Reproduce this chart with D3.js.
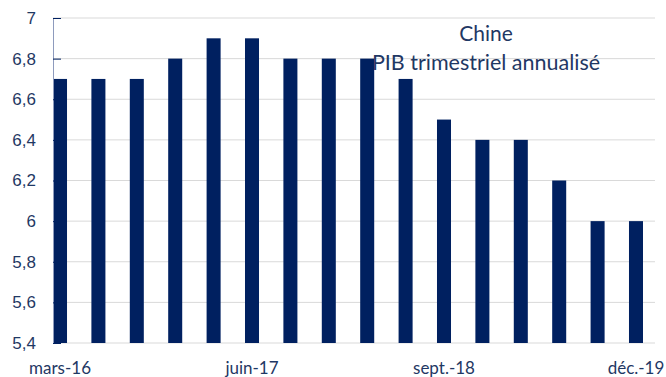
<!DOCTYPE html>
<html>
<head>
<meta charset="utf-8">
<script src="https://cdn.jsdelivr.net/npm/d3@7"></script>
<style>
  body { margin:0; background:#fff; }
  svg { display:block; font-family: Lato, "Open Sans", sans-serif; }
</style>
</head>
<body>
<div id="plot"></div>
<script>
// PIB trimestriel annualisé - Chine
var quarters = ['mars-16','juin-16','sept.-16','déc.-16',
                'mars-17','juin-17','sept.-17','déc.-17',
                'mars-18','juin-18','sept.-18','déc.-18',
                'mars-19','juin-19','sept.-19','déc.-19'];
var gdp = [6.7,6.7,6.7,6.8,6.9,6.9,6.8,6.8,6.8,6.7,6.5,6.4,6.4,6.2,6.0,6.0];
var yTicks = [5.4,5.6,5.8,6,6.2,6.4,6.6,6.8,7];
var xLabels = ['mars-16','juin-17','sept.-18','déc.-19'];

var W = 666, H = 377;
var margin = {t:18, r:11, b:34, l:53};
var width = W - margin.l - margin.r,
    height = H - margin.t - margin.b;

var navy = '#002060', textCol = '#1f3864';

var svg = d3.select('#plot').append('svg')
  .attr('width', W).attr('height', H);

var plot = svg.append('g')
  .attr('transform','translate('+margin.l+','+margin.t+')');

var x = d3.scaleBand()
  .domain(quarters)
  .range([0, 590])
  .paddingInner(0.635)
  .paddingOuter(0);

var y = d3.scaleLinear()
  .domain([5.4, 7])
  .range([height, 0]);

var fmt = function(d){ return String(d).replace('.', ','); };

// gridlines
plot.selectAll('.grid').data(yTicks).enter()
  .append('line')
  .attr('x1', 0).attr('x2', width)
  .attr('y1', function(d){ return y(d); })
  .attr('y2', function(d){ return y(d); })
  .style('stroke', '#d9d9d9')
  .style('stroke-width', '1px');

// bars
plot.selectAll('.bar').data(gdp).enter()
  .append('rect')
  .attr('x', function(d,i){ return x(quarters[i]); })
  .attr('y', function(d){ return y(d); })
  .attr('width', x.bandwidth())
  .attr('height', function(d){ return height - y(d); })
  .style('fill', navy);

// y axis
var yAxis = d3.axisLeft(y).tickValues(yTicks).tickFormat(fmt).tickSize(-8).tickPadding(17);
var ya = plot.append('g').call(yAxis);
ya.select('.domain').style('stroke', '#8e9bbd');
ya.selectAll('.tick line').style('stroke', navy);
ya.selectAll('.tick text')
  .style('font-size', '17px')
  .style('fill', textCol);

// x labels
plot.selectAll('.xlab').data(xLabels).enter()
  .append('text')
  .attr('x', function(d){ return x(d) + x.bandwidth()/2; })
  .attr('y', height + 31)
  .attr('text-anchor', 'middle')
  .style('font-size', '17px')
  .style('fill', textCol)
  .text(function(d){ return d; });

// title
svg.append('text')
  .attr('x', 486).attr('y', 41)
  .attr('text-anchor', 'middle')
  .style('font-size', '21px')
  .style('fill', textCol)
  .text('Chine');
svg.append('text')
  .attr('x', 486).attr('y', 70)
  .attr('text-anchor', 'middle')
  .style('font-size', '21.5px')
  .style('fill', textCol)
  .text('PIB trimestriel annualisé');
</script>
</body>
</html>
